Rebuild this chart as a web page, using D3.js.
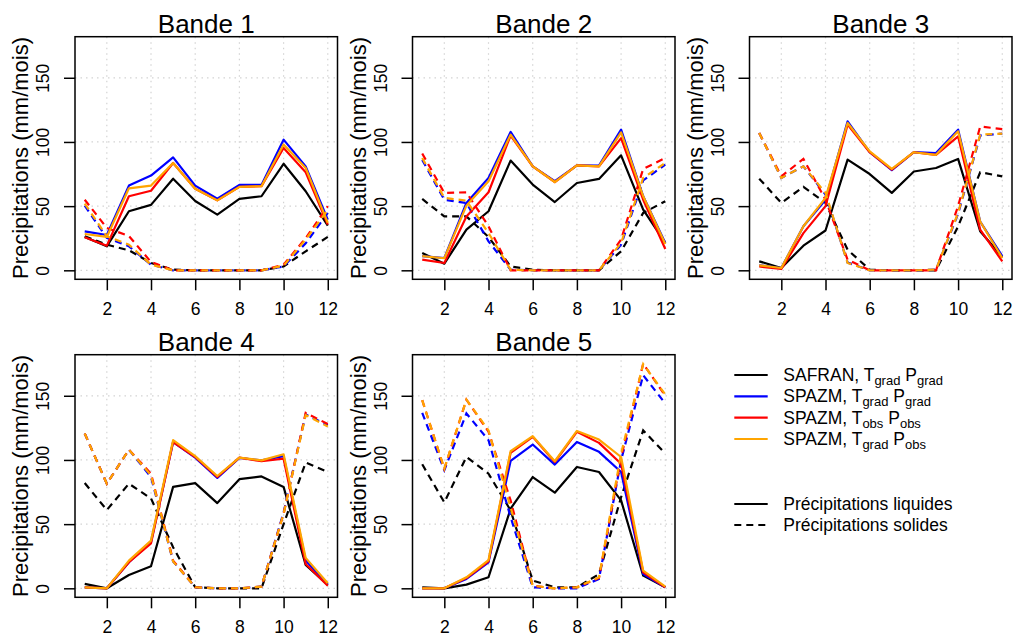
<!DOCTYPE html>
<html><head><meta charset="utf-8">
<script src="https://cdn.jsdelivr.net/npm/d3@7"></script>
<style>body{margin:0;background:#fff}svg{display:block;font-family:"Liberation Sans",Arial,Helvetica,sans-serif}</style>
</head><body><svg id="c" width="1014" height="636"></svg>
<script>
const months = [1,2,3,4,5,6,7,8,9,10,11,12];
const xTicks = [2,4,6,8,10,12];
const yTicks = [0,50,100,150];
const bandTitles = ["Bande 1","Bande 2","Bande 3","Bande 4","Bande 5"];
const seriesColors = ["#000000","#0000FF","#FF0000","#FFA500"];
const yLabel = "Precipitations (mm/mois)";
// legend: [main, sub, main, sub]
const legendSeries = [
  ["SAFRAN, T","grad"," P","grad"],
  ["SPAZM, T","grad"," P","grad"],
  ["SPAZM, T","obs"," P","obs"],
  ["SPAZM, T","grad"," P","obs"]
];
const legendTypes = ["Précipitations liquides","Précipitations solides"];

// rows: SAFRAN Tgrad Pgrad, SPAZM Tgrad Pgrad, SPAZM Tobs Pobs, SPAZM Tgrad Pobs
const liquid_b1 = [
  [26,18.7,46,51,71.4,54,43.4,55.6,57.7,83,61.6,34.8],
  [30.4,27.5,66,73.8,88,66,55.8,66.5,66.5,101.8,81,39.5],
  [25.7,19.2,57.7,62,83.6,63.6,54.5,65,65.5,95.3,76.4,35.6],
  [28.3,26,63.9,66,83.6,63.6,54.5,65,65.5,98,79.7,36.9]
];
const solid_b1 = [
  [26.5,20,15.6,5.7,0.5,0,0,0,0,3,14.8,26],
  [50.4,25.2,18.7,4.4,0,0,0,0,0,3,21,44.7],
  [55,33,26.7,6.5,0,0,0,0,0,4.4,25,50],
  [52,26.5,20,4.4,0,0,0,0,0,3.6,24,47]
];
const liquid_b2 = [
  [13.5,5.2,31.7,46,85.5,66.8,53.2,68,71.2,89.6,47.3,21.3],
  [11,9.6,52.5,72,107.8,81,69.4,81.8,81.6,109.6,57.7,21.3],
  [8.3,5.7,42,60.8,105,81,68.8,81.8,81,103,55,16.6],
  [11,9.4,50.4,69.4,105.7,81,68.8,81.8,81,107.5,57.7,20.5]
];
const solid_b2 = [
  [55.6,42,42,26,3,0.5,0,0,0,14.8,44.7,53.8],
  [86,55,52.5,22.6,0.5,0,0,0,0,20,70,82.3],
  [91,60.3,60.8,34.3,0,0,0,0,0,24,79,87.5],
  [87.5,56.4,54.3,29,0.5,0,0,0,0,21.3,72,83.6]
];
const liquid_b3 = [
  [7,1.8,19.2,31,86.2,75,60.3,77,79.7,86.8,30.4,10.4],
  [3.9,1.8,34.3,55,116,92,78,92,91.4,109.6,38,11],
  [3,1,29,50,113.5,92,78.4,92,90,104.4,31.7,7],
  [3.9,1.8,34.3,56.4,114.8,92.7,79,92,90,108.3,38,9.6]
];
const solid_b3 = [
  [71.4,52.5,65,52.5,16,0.5,0,0,0,34.3,76.4,73.2],
  [107,72,81,59,6,0,0,0,0.5,44,105,106.5],
  [107,73.2,86.8,55,8.3,0,0,0,0,50,112,110],
  [107,72,81,60.3,5.7,0,0,0,0.5,44.7,105.7,106.5]
];
const liquid_b4 = [
  [3.4,0,10.4,17.2,79,82,66.4,85,87.2,79,18.2,2.6],
  [0.8,0,20.3,36,114,101.8,86,101.6,99.7,103,21.6,2.9],
  [0.8,0,20.3,35,114,102.3,86.7,101.8,99,101,19,2],
  [0.8,0,21.6,37.2,115.4,103,87.5,101.8,99.7,104.4,23.7,3.9]
];
const solid_b4 = [
  [82,61,81.5,70,32,0.8,0,0,0,50,98,90.6],
  [120.6,81.5,108,86.7,21,0.8,0,0,1.3,59,135.5,127],
  [120.6,81.5,108,89.3,21.6,0.8,0,0,1.3,58,136.7,128],
  [120.6,81.5,108,88,21,0.8,0,0,1.3,58,135,126]
];
const liquid_b5 = [
  [0.8,0,2.9,8.6,62,86.7,74.5,94.5,90.6,68.5,9.9,0.8],
  [0,0,7.3,20.3,99.2,112,96.4,114,106.3,90.6,11.2,0.8],
  [0,0,8,21,105.5,118,98.4,121.9,113.3,97,12.5,0.8],
  [0,0,8.6,22,106.8,118.5,99,122.6,115.9,102.3,13.8,1.3]
];
const solid_b5 = [
  [96.6,67,102.3,89.3,60.7,6,0.8,0.8,11,71,123,105],
  [136.7,92,136.2,115.4,55.5,0.8,0,0,7.3,99.7,166,144],
  [146.6,93,147,122,68.5,2,0,0.8,8,102,175,150],
  [146.6,93.2,147,123,63,2,0,0.8,8.6,105,174.7,151]
];

const liquidBands = [liquid_b1, liquid_b2, liquid_b3, liquid_b4, liquid_b5];
const solidBands = [solid_b1, solid_b2, solid_b3, solid_b4, solid_b5];

const svg = d3.select("#c");
const panelW = 262.5, panelH = 242.6;
const lefts = [75, 412.5, 749.5], tops = [36.7, 354.7];
const dashPat = "7,5";

function drawPanel(i) {
  const left = lefts[i % 3], top = tops[Math.floor(i / 3)];
  const right = left + panelW, bottom = top + panelH;
  const x = d3.scaleLinear().domain([0.56, 12.44]).range([left, right]);
  const y = d3.scaleLinear().domain([-7, 182]).range([bottom, top]);
  const g = svg.append("g");

  // grid
  g.selectAll(".gx").data(xTicks).join("line")
    .attr("x1", d => x(d)).attr("x2", d => x(d)).attr("y1", top).attr("y2", bottom)
    .attr("stroke", "#D3D3D3").attr("stroke-width", 1.2).attr("stroke-dasharray", "1.5,4");
  g.selectAll(".gy").data(yTicks).join("line")
    .attr("y1", d => y(d)).attr("y2", d => y(d)).attr("x1", left).attr("x2", right)
    .attr("stroke", "#D3D3D3").attr("stroke-width", 1.2).attr("stroke-dasharray", "1.5,4");

  const line = d3.line().x((d, k) => x(months[k])).y(d => y(d));
  const clip = "clip" + i;
  svg.append("clipPath").attr("id", clip).append("rect")
    .attr("x", left).attr("y", top).attr("width", panelW).attr("height", panelH);
  const lg = g.append("g").attr("clip-path", `url(#${clip})`);
  for (let s = 0; s < 4; s++) {
    lg.append("path").datum(liquidBands[i][s]).attr("d", line)
      .attr("fill", "none").attr("stroke", seriesColors[s]).attr("stroke-width", 2.2)
      .attr("stroke-linejoin", "round");
    lg.append("path").datum(solidBands[i][s]).attr("d", line)
      .attr("fill", "none").attr("stroke", seriesColors[s]).attr("stroke-width", 2.2)
      .attr("stroke-dasharray", dashPat);
  }

  // box
  g.append("rect").attr("x", left).attr("y", top).attr("width", panelW).attr("height", panelH)
    .attr("fill", "none").attr("stroke", "#000").attr("stroke-width", 1.5);

  // x axis
  const xa = g.append("g").attr("transform", `translate(0,${bottom})`)
    .call(d3.axisBottom(x).tickValues(xTicks).tickSize(11).tickPadding(0).tickFormat(d3.format("d")));
  xa.select(".domain").remove();
  xa.selectAll("line").attr("stroke-width", 1.5);
  xa.selectAll("text").attr("font-size", 17.5).attr("fill", "#000").attr("dy", null)
    .attr("y", 35.5).attr("font-family", "Liberation Sans, Arial, sans-serif");

  // y axis
  const ya = g.append("g").attr("transform", `translate(${left},0)`)
    .call(d3.axisLeft(y).tickValues(yTicks).tickSize(11).tickFormat(d3.format("d")));
  ya.select(".domain").remove();
  ya.selectAll("line").attr("stroke-width", 1.5);
  ya.selectAll("text").attr("font-size", 17.5).attr("fill", "#000")
    .attr("x", null).attr("dy", null).attr("text-anchor", "middle")
    .attr("dominant-baseline", "central")
    .attr("transform", "translate(-32,0) rotate(-90)")
    .attr("font-family", "Liberation Sans, Arial, sans-serif");

  // y label
  g.append("text").attr("transform", `translate(${left - 54.5},${(top + bottom) / 2}) rotate(-90)`)
    .attr("text-anchor", "middle").attr("dominant-baseline", "central")
    .attr("font-size", 22).text(yLabel);

  // title
  g.append("text").attr("x", (left + right) / 2).attr("y", top - 3.5)
    .attr("text-anchor", "middle").attr("font-size", 26).text(bandTitles[i]);
}

for (let i = 0; i < 5; i++) drawPanel(i);

// legend
const lgX1 = 734.3, lgX2 = 767.7, lgTx = 783.3;
const legY = [375, 396.3, 417.7, 439];
legendSeries.forEach((parts, k) => {
  svg.append("line").attr("x1", lgX1).attr("x2", lgX2).attr("y1", legY[k]).attr("y2", legY[k])
    .attr("stroke", seriesColors[k]).attr("stroke-width", 2.2);
  const t = svg.append("text").attr("x", lgTx).attr("y", legY[k] + 6).attr("font-size", 17.5);
  t.append("tspan").text(parts[0]);
  t.append("tspan").attr("font-size", 13).attr("dy", 4).text(parts[1]);
  t.append("tspan").attr("dy", -4).text(parts[2]);
  t.append("tspan").attr("font-size", 13).attr("dy", 4).text(parts[3]);
});
const legY2 = [504, 525];
legendTypes.forEach((lab, k) => {
  svg.append("line").attr("x1", lgX1).attr("x2", lgX2).attr("y1", legY2[k]).attr("y2", legY2[k])
    .attr("stroke", "#000").attr("stroke-width", 2.2)
    .attr("stroke-dasharray", k === 1 ? dashPat : null);
  svg.append("text").attr("x", lgTx).attr("y", legY2[k]).attr("dominant-baseline", "central")
    .attr("font-size", 17.5).text(lab);
});
</script></body></html>
